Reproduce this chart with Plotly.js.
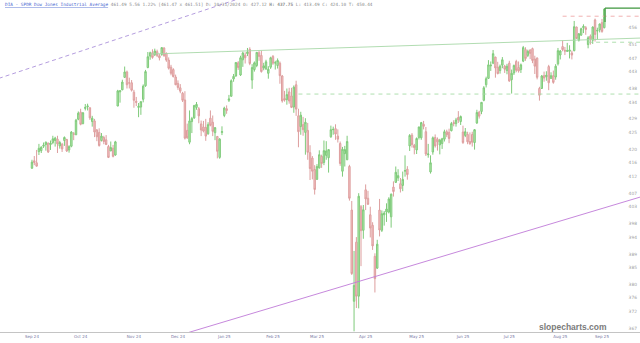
<!DOCTYPE html>
<html>
<head>
<meta charset="utf-8">
<script src="https://cdn.plot.ly/plotly-3.0.1.min.js"></script>
<style>
html,body{margin:0;padding:0;background:#fff;}
#chart{width:640px;height:343px;}
</style>
</head>
<body>
<div id="chart"></div>
<script>
// ---- calendar (trading days) ----
const firstDay = "2024-09-16";
const lastDay = "2025-09-11";
const marketHolidays = ["2024-11-28","2024-12-25","2025-01-01","2025-01-09","2025-01-20","2025-02-17","2025-04-18","2025-05-26","2025-06-19","2025-07-04","2025-09-01"];

// ---- daily OHLC ----
const openPx = [
414.4,416.6,416.0,419.3,419.6,420.9,421.4,421.8,421.4,422.0,422.6,
423.0,421.0,421.5,422.6,422.9,419.8,420.9,424.5,424.3,428.9,431.0,427.6,432.1,432.6,432.3,428.2,428.4,425.7,425.0,422.6,423.5,422.8,420.8,
419.5,420.3,418.3,432.8,437.0,437.6,441.3,442.9,439.7,439.7,436.9,434.2,432.4,432.5,434.8,438.8,444.2,447.6,448.6,448.0,
448.9,447.7,448.1,450.0,448.4,446.4,444.3,443.6,441.4,439.5,438.2,436.6,434.6,425.6,422.1,428.2,429.3,432.4,432.0,427.5,426.6,
426.5,424.6,429.2,428.0,424.9,423.8,417.6,425.0,430.0,432.0,434.5,435.7,440.8,441.7,445.6,442.0,446.5,447.9,448.3,449.6,
440.5,443.6,444.8,448.6,447.8,444.1,443.8,442.5,444.3,447.5,445.6,444.8,445.5,441.7,435.0,434.7,437.0,435.8,432.5,
439.1,429.9,426.7,427.3,425.0,425.6,419.0,417.4,414.0,411.1,414.5,417.9,416.1,418.2,417.5,423.7,425.8,426.1,423.9,421.7,413.5,
418.7,416.9,414.9,402.0,375.0,392.5,376.5,403.0,396.0,408.0,405.5,400.6,397.5,388.3,384.8,402.0,396.0,400.6,401.4,401.4,400.0,
408.8,410.2,411.5,409.8,409.3,413.5,414.1,421.0,424.2,421.2,419.8,423.5,423.4,427.4,425.2,418.4,413.3,419.2,423.5,423.0,421.3,
421.7,423.0,425.2,425.0,425.5,427.9,427.6,429.4,428.2,425.1,424.1,424.4,422.3,424.4,422.0,427.8,431.0,431.2,434.5,439.1,
441.0,444.7,445.5,447.3,444.3,443.3,444.9,444.6,443.3,445.5,440.6,442.6,446.0,444.2,443.6,446.1,449.5,447.8,449.4,449.8,446.7,447.0,
438.0,438.0,441.8,441.5,444.5,441.0,441.8,441.4,445.3,447.9,450.4,449.3,449.0,449.0,448.5,449.2,456.2,452.3,453.8,456.0,456.0,
451.0,453.5,452.3,458.3,455.0,455.4,457.5,456.0];
const highPx = [
416.9,418.0,419.8,421.6,420.9,422.0,422.3,422.0,422.6,424.0,423.7,
424.0,422.5,421.9,423.8,423.1,421.2,425.4,425.1,429.0,431.2,432.0,431.0,433.4,433.5,432.4,429.9,429.0,426.0,426.2,424.8,424.0,424.2,421.3,
422.3,421.3,422.5,437.6,437.5,440.6,444.5,443.3,441.2,440.5,437.6,435.5,433.7,434.2,439.2,443.5,448.8,448.9,449.6,449.8,
449.5,448.2,450.1,450.2,448.7,447.2,445.0,444.0,442.1,440.4,439.3,437.0,437.2,427.6,431.5,429.6,433.0,434.0,432.5,428.5,428.4,
429.0,428.0,431.5,430.0,426.6,423.9,423.3,426.8,432.6,433.0,436.1,440.7,442.3,445.7,446.1,447.7,448.9,448.7,450.0,450.2,
445.2,446.0,448.8,449.1,449.2,445.6,446.5,444.6,447.4,447.9,446.2,446.9,446.0,442.0,437.3,438.0,438.2,438.2,438.9,
440.3,432.0,431.1,429.6,429.2,427.8,421.2,418.0,415.3,415.6,419.7,418.4,422.6,422.4,420.0,427.0,426.7,427.4,425.9,422.3,420.7,
421.0,424.0,415.4,404.7,389.9,394.0,407.0,403.5,403.5,409.6,407.7,403.0,398.4,389.2,393.2,405.3,401.9,401.7,404.0,405.8,406.9,
410.5,414.9,414.1,411.5,413.4,418.2,415.0,424.5,424.8,421.6,423.5,426.7,428.1,428.4,426.6,421.6,418.2,423.8,424.4,423.5,423.1,
423.4,425.8,425.8,426.1,428.1,428.6,429.3,431.3,430.0,427.0,426.3,425.2,425.0,425.2,426.0,431.7,431.4,434.0,438.7,441.5,
446.4,446.0,449.4,447.4,445.9,445.1,447.3,445.0,445.3,446.2,443.6,445.1,446.5,446.0,445.4,450.6,450.2,449.5,449.6,450.1,447.7,447.2,
438.5,442.0,443.0,443.1,445.0,442.8,443.3,445.2,450.0,449.4,452.2,450.3,451.5,450.8,449.2,458.0,456.3,454.4,456.0,457.0,456.5,
453.5,454.0,456.4,458.7,456.0,457.2,458.6,461.6];
const lowPx = [
414.2,415.3,414.9,418.3,418.9,420.4,419.6,418.9,419.8,421.5,420.8,
418.9,420.2,419.2,421.0,419.2,419.0,420.6,422.7,424.2,428.6,427.1,427.4,431.5,431.5,428.7,426.7,423.6,422.4,420.8,422.3,421.5,421.3,417.4,
419.5,417.6,418.1,432.8,433.8,437.5,441.1,438.0,438.0,437.1,432.3,432.8,429.5,430.2,433.9,438.5,444.0,446.5,446.8,447.6,
447.3,446.3,447.7,447.4,445.9,443.6,441.9,441.3,439.0,437.6,436.6,434.0,422.9,423.1,421.5,424.8,429.0,431.7,427.7,423.9,425.0,
422.5,424.3,426.8,423.9,422.7,417.3,417.2,424.2,429.5,430.5,434.0,435.6,440.0,441.5,443.5,441.7,444.4,445.4,447.6,444.9,
437.9,443.0,444.3,446.2,442.7,443.4,443.5,440.9,443.8,445.0,443.6,443.9,439.4,433.8,434.1,433.2,433.5,432.2,430.8,
429.9,420.6,424.3,424.0,418.4,416.9,410.9,411.1,406.6,410.9,414.3,414.5,415.3,416.9,413.1,423.4,424.3,422.8,422.0,415.1,411.9,
414.9,416.8,404.8,382.8,366.1,373.0,372.9,385.4,393.5,402.0,403.6,393.9,390.2,377.6,384.6,394.2,395.5,397.4,398.5,401.0,396.8,
406.0,410.1,410.6,407.2,407.6,411.9,411.0,419.5,420.5,418.5,418.6,422.9,422.8,425.9,418.0,417.5,412.8,418.4,420.5,419.6,418.5,
420.1,422.3,423.6,421.8,425.3,426.8,426.7,427.8,427.2,421.6,423.6,421.5,421.3,420.8,419.9,427.5,429.1,430.4,434.2,438.3,
440.8,443.2,445.2,441.2,442.2,442.4,444.0,442.6,442.2,440.0,436.5,442.0,442.8,442.7,442.6,445.8,446.2,447.3,446.7,445.5,442.3,440.7,
434.4,437.9,440.0,440.3,437.5,440.8,439.4,440.6,444.8,446.6,449.0,447.9,448.9,446.9,446.6,449.0,452.7,451.9,453.6,454.4,453.9,
449.9,451.0,451.2,451.9,452.5,454.6,454.5,455.8];
const closePx = [
416.2,416.1,415.0,420.3,420.6,421.2,422.1,419.2,421.8,423.1,423.3,
421.6,422.0,420.1,423.5,419.5,420.8,425.1,424.5,428.6,430.7,427.4,430.8,432.4,432.8,429.3,429.2,425.1,423.7,421.1,423.9,422.3,421.4,417.6,
420.5,417.9,422.2,437.3,437.3,439.9,442.9,439.1,439.6,437.5,434.5,433.9,432.7,434.1,438.7,443.0,447.4,448.6,447.2,449.1,
447.8,447.1,450.1,447.7,446.4,444.0,442.5,441.5,439.1,438.3,437.2,434.5,423.3,423.4,428.4,429.1,433.0,433.3,429.9,425.7,425.4,
423.9,427.3,427.1,425.3,426.4,419.4,423.0,425.2,432.2,431.5,434.9,440.3,441.6,445.7,444.2,447.1,448.5,447.1,448.8,445.4,
444.2,445.6,448.7,447.5,443.0,444.7,445.9,443.7,447.1,445.5,445.6,446.3,441.8,434.3,434.6,436.2,434.3,432.4,438.4,
431.9,425.2,430.1,425.8,428.0,419.1,414.3,413.5,408.1,414.9,418.4,415.8,419.6,419.5,419.9,425.8,425.9,424.5,423.0,415.8,420.0,
419.9,422.3,405.5,383.2,379.7,376.5,406.1,395.9,402.1,405.3,403.7,396.7,391.4,381.7,391.9,396.1,400.9,401.1,402.3,405.3,406.7,
407.5,413.2,412.2,408.3,411.1,413.7,412.5,424.1,421.4,420.5,423.2,426.6,427.9,426.8,418.6,418.6,416.0,423.4,421.0,422.2,422.7,
423.1,425.2,424.3,423.2,427.6,427.6,428.7,428.7,429.7,422.0,425.2,422.2,421.7,422.1,425.8,430.9,429.8,433.9,438.2,440.9,
445.0,444.9,448.3,444.1,442.4,444.6,446.5,443.7,444.6,440.2,442.5,444.8,443.4,443.2,445.0,450.1,446.9,449.0,448.4,446.3,444.6,441.3,
436.0,441.7,441.1,441.9,439.7,441.8,439.8,444.6,449.2,449.1,449.5,449.1,449.2,449.4,447.9,456.3,452.8,454.2,455.7,456.4,455.5,
453.0,452.7,456.2,454.0,455.2,457.1,454.9,461.5];

// ---- axis labels ----
const monthLabels = ["Sep 24","Oct 24","Nov 24","Dec 24","Jan 25","Feb 25","Mar 25","Apr 25","May 25","Jun 25","Jul 25","Aug 25","Sep 25"];
const monthLabelDates = ["2024-09-16","2024-10-15","2024-11-15","2024-12-13","2025-01-15","2025-02-14","2025-03-14","2025-04-14","2025-05-15","2025-06-13","2025-07-15","2025-08-14","2025-09-10"];
const priceTicks = [456,451,447,443,438,434,429,425,420,416,412,407,403,398,394,389,385,380,376,372,367];

// ---- drawn studies (trading-day index, price) ----
const dashedTrendIdx = [-20, 100];   const dashedTrendPx = [439.7, 467.0];
const peakTrendIdx = [51, 270];      const peakTrendPx = [448.2, 453.1];
const supportTrendIdx = [60, 270];   const supportTrendPx = [364.2, 407.4];
const levelGreenLow = {from: 115, px: 436.35};
const levelGreenHigh = {from: 240, px: 451.7};
const levelRed = {from: 229, px: 459.4};
const highStepIdx = [247.3, 247.3, 270]; const highStepPx = [457.7, 461.8, 461.8];

// build trading-day categories
function isoDate(d){ return d.toISOString().slice(0,10); }
const dates = [];
for (let d = new Date(firstDay + "T00:00:00Z"); isoDate(d) <= lastDay; d.setUTCDate(d.getUTCDate()+1)) {
  const wd = d.getUTCDay();
  const s = isoDate(d);
  if (wd === 0 || wd === 6 || marketHolidays.includes(s)) continue;
  dates.push(s);
}

const candles = {
  type: "candlestick",
  x: dates, open: openPx, high: highPx, low: lowPx, close: closePx,
  increasing: {line: {color: "#7fca7a", width: 1}, fillcolor: "#b6e9b0"},
  decreasing: {line: {color: "#dd9e9e", width: 1}, fillcolor: "#f5c3c3"},
  whiskerwidth: 0,
  hoverinfo: "skip",
  showlegend: false
};

const xEnd = 262.4;
function seg(x0,y0,x1,y1,color,dash,width){
  return {type:"line", xref:"x", yref:"y", x0:x0, y0:y0, x1:x1, y1:y1,
          line:{color:color, width:width||1, dash:dash||"solid"}, layer:"above"};
}
const shapes = [
  seg(dashedTrendIdx[0], dashedTrendPx[0], dashedTrendIdx[1], dashedTrendPx[1], "#a184d6", "4px,3px", 0.8),
  seg(peakTrendIdx[0], peakTrendPx[0], peakTrendIdx[1], peakTrendPx[1], "#a8d8a8", "solid", 0.9),
  seg(supportTrendIdx[0], supportTrendPx[0], supportTrendIdx[1], supportTrendPx[1], "#c07ad8", "solid", 0.9),
  seg(levelGreenLow.from, levelGreenLow.px, 270, levelGreenLow.px, "#a6dba6", "4px,4px", 0.9),
  seg(levelGreenHigh.from, levelGreenHigh.px, 270, levelGreenHigh.px, "#a6dba6", "4px,4px", 0.9),
  seg(levelRed.from, levelRed.px, 270, levelRed.px, "#eea8a8", "4px,4px", 0.9),
  seg(highStepIdx[0], highStepPx[0], highStepIdx[1], highStepPx[1], "#3d963d", "solid", 1.2),
  seg(highStepIdx[1], highStepPx[1], highStepIdx[2], highStepPx[2], "#3d963d", "solid", 1.2)
];

const titleText = '<span style="color:#4a68d0;text-decoration:underline">DIA - SPDR Dow Jones Industrial Average</span> ' +
  '<span style="color:#8a8a8a">461.49 5.56 1.22% [461.47 x 461.51] D: 10/31/2024 O: 427.12 <b>H: 437.75</b> L: 413.49 C: 424.10 T: 450.44</span>';

const layout = {
  width: 640, height: 343,
  margin: {l: 0, r: 0, t: 0, b: 11, pad: 0},
  paper_bgcolor: "#ffffff", plot_bgcolor: "#ffffff",
  showlegend: false,
  boxgap: 0.12,
  xaxis: {
    type: "category",
    range: [-13.8, xEnd],
    rangeslider: {visible: false},
    showgrid: false, zeroline: false,
    showline: true, linecolor: "#c4c4c4", linewidth: 1,
    ticks: "",
    tickmode: "array", tickvals: monthLabelDates, ticktext: monthLabels,
    tickfont: {family: "DejaVu Sans", size: 4, color: "#7878a4"},
    fixedrange: true
  },
  yaxis: {
    range: [365.9, 464.2],
    side: "right",
    ticklabelposition: "inside",
    showgrid: false, zeroline: false, showline: false,
    ticks: "",
    tickmode: "array", tickvals: priceTicks, ticktext: priceTicks.map(String),
    tickfont: {family: "DejaVu Sans", size: 4.4, color: "#a0a0a0"},
    fixedrange: true
  },
  shapes: shapes,
  annotations: [
    {xref: "paper", yref: "paper", x: 0.004, y: 1.0, xanchor: "left", yanchor: "top",
     text: titleText, showarrow: false, font: {family: "DejaVu Sans Mono", size: 4.4, color: "#8a8a8a"}},
    {xref: "paper", yref: "paper", x: 0.952, y: 0.016, xanchor: "right", yanchor: "middle",
     text: "<b>slopecharts.com</b>", showarrow: false, font: {family: "Liberation Sans", size: 8.5, color: "#7b7b7b"}}
  ]
};

Plotly.newPlot("chart", [candles], layout, {staticPlot: true, displayModeBar: false});
</script>
</body>
</html>
